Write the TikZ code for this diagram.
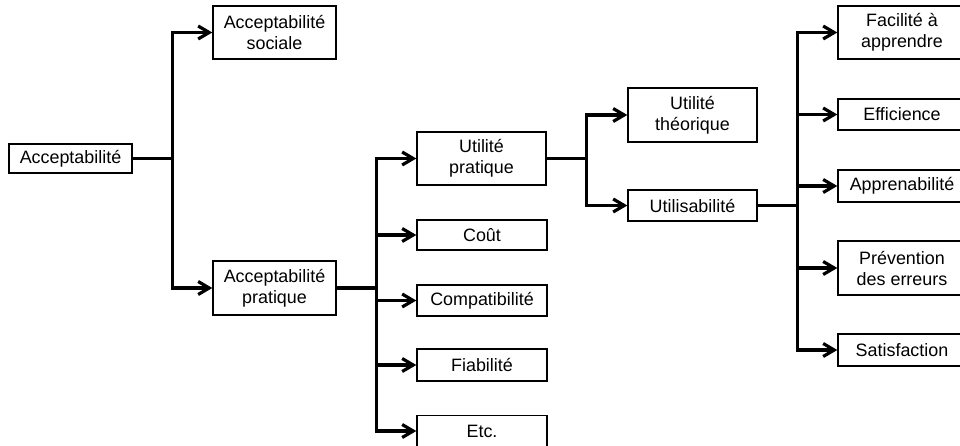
\documentclass[tikz,border=0pt]{standalone}
\usepackage{fontspec}
\setmainfont{Liberation Sans}
\usetikzlibrary{arrows.meta}
\begin{document}
\begin{tikzpicture}[x=1pt,y=-1pt,
  box/.style={draw=black,line width=1.4pt,fill=white,align=center,inner sep=0pt,
    font=\fontsize{17.9}{21}\selectfont,minimum width=#1},
  box/.default=129,
  link/.style={line width=3.2pt,line join=miter},
  arr/.style={link,-{Straight Barb[length=11pt,width=13pt,line width=3.2pt]}}]
\useasboundingbox (0,0) rectangle (960,446);
% nodes
\node[box=123,minimum height=29] (acc) at (70.5,158.5) {Acceptabilité};
\node[box=123,minimum height=53] (soc) at (274.5,32.5) {Acceptabilité\\sociale};
\node[box=123,minimum height=54] (prat) at (274.5,288) {Acceptabilité\\pratique};
\node[box=129,minimum height=53] (up) at (481.5,158.5) {Utilité\\pratique};
\node[box=130,minimum height=30] (cout) at (482,235) {Coût};
\node[box=130,minimum height=31] (compat) at (482,300.5) {Compatibilité};
\node[box=130,minimum height=32] (fiab) at (482,365) {Fiabilité};
\node[box=130,minimum height=31] (etc) at (482,431) {Etc.};
\node[box=129,minimum height=54] (ut) at (692.5,115) {Utilité\\théorique};
\node[box=129,minimum height=31] (us) at (692.5,205.5) {Utilisabilité};
\node[box=128,minimum height=53] (fac) at (902,32.5) {Facilité à\\apprendre};
\node[box=128,minimum height=31] (eff) at (902,114.5) {Efficience};
\node[box=128,minimum height=32] (app) at (902,186) {Apprenabilité};
\node[box=128,minimum height=54] (prev) at (902,268) {Prévention\\des erreurs};
\node[box=128,minimum height=32] (sat) at (902,350) {Satisfaction};
% junctions
\path (acc.east) ++(40,0) coordinate (j1);
\path (prat.east) ++(40,0) coordinate (j2);
\path (up.east) ++(40,0) coordinate (j3);
\path (us.east) ++(40,0) coordinate (j4);
% connectors
\draw[link] (acc.east) -- (j1);
\draw[arr] (j1) |- (soc.west);
\draw[arr] (j1) |- (prat.west);
\draw[link] (prat.east) -- (j2);
\draw[arr] (j2) |- (up.west);
\draw[arr] (j2) |- (cout.west);
\draw[arr] (j2) |- (compat.west);
\draw[arr] (j2) |- (fiab.west);
\draw[arr] (j2) |- (etc.west);
\draw[link] (up.east) -- (j3);
\draw[arr] (j3) |- (ut.west);
\draw[arr] (j3) |- (us.west);
\draw[link] (us.east) -- (j4);
\draw[arr] (j4) |- (fac.west);
\draw[arr] (j4) |- (eff.west);
\draw[arr] (j4) |- (app.west);
\draw[arr] (j4) |- (prev.west);
\draw[arr] (j4) |- (sat.west);
\end{tikzpicture}
\end{document}
